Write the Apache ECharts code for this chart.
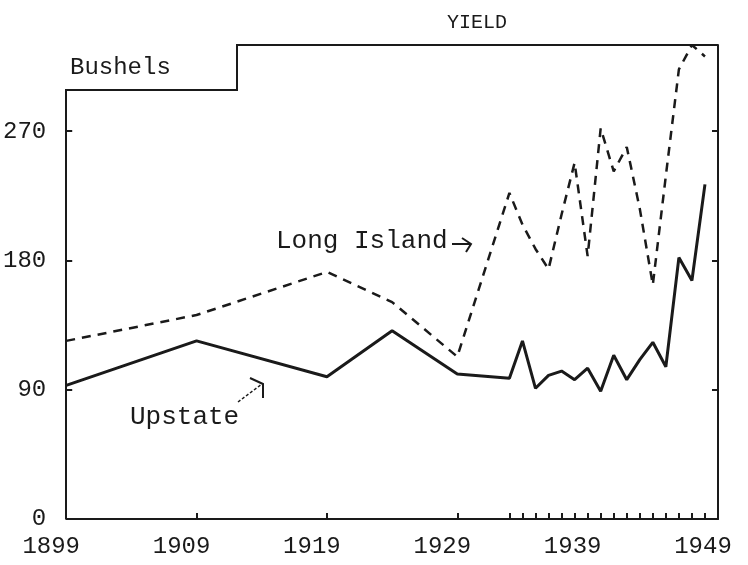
<!DOCTYPE html>
<html>
<head>
<meta charset="utf-8">
<script src="https://cdn.jsdelivr.net/npm/echarts@6/dist/echarts.min.js"></script>
<style>
html, body { margin: 0; background: #fff; }
#chart { width: 748px; height: 565px; }
</style>
</head>
<body>
<div id="chart"></div>
<script>
// values (bushels per acre)
var years = [1899, 1909, 1919, 1924, 1929, 1933, 1934, 1935, 1936, 1937, 1938, 1939, 1940, 1941, 1942, 1943, 1944, 1945, 1946, 1947, 1948];
var longIsland = [124, 142, 172, 151, 113, 227, 205, 188, 174, 212, 248, 183, 272, 242, 259, 216, 163, 239, 313, 330, 322];
var upstate = [93, 124, 99, 131, 101, 98, 124, 91, 100, 103, 97, 105, 89, 114, 97, 111, 123, 106, 182, 166, 233];

var xLabelYears = [1899, 1909, 1919, 1929, 1939, 1949];
var xTickYears = [1909, 1919, 1929, 1933, 1934, 1935, 1936, 1937, 1938, 1939, 1940, 1941, 1942, 1943, 1944, 1945, 1946, 1947, 1948];
var yLabels = [0, 90, 180, 270];
var yTicks = [90, 180, 270];

var mono = '"Liberation Mono", "DejaVu Sans Mono", monospace';
var ink = '#1a1a1a';

function pairs(values) {
    return years.map(function (y, i) { return [y, values[i]]; });
}

var myChart = echarts.init(document.getElementById('chart'));

var option = {
    backgroundColor: '#fff',
    animation: false,
    title: {
        text: 'YIELD',
        left: 442,
        top: 8,
        textStyle: { fontFamily: mono, fontSize: 20, fontWeight: 'normal', color: ink }
    },
    grid: { left: 66, right: 30, top: 45, bottom: 46 },
    xAxis: {
        type: 'value',
        min: 1899,
        max: 1949,
        interval: 10,
        axisLine: { lineStyle: { color: ink, width: 2 } },
        axisTick: { inside: true, length: 6, customValues: xTickYears, lineStyle: { color: ink, width: 2 } },
        axisLabel: {
            customValues: xLabelYears,
            fontFamily: mono, fontSize: 24, color: ink, margin: 16,
            padding: [0, 30, 0, 0],
            formatter: function (v) { return String(v); }
        },
        splitLine: { show: false }
    },
    yAxis: [{
        type: 'value',
        min: 0,
        max: 330,
        axisLine: { show: false },
        axisTick: { show: true, inside: true, length: 6, customValues: yTicks, lineStyle: { color: ink, width: 2 } },
        axisLabel: { customValues: yLabels, fontFamily: mono, fontSize: 24, color: ink, margin: 20 },
        splitLine: { show: false }
    }, {
        type: 'value',
        position: 'right',
        min: 0,
        max: 330,
        axisLine: { show: true, lineStyle: { color: ink, width: 2 } },
        axisTick: { show: true, inside: true, length: 6, customValues: yTicks, lineStyle: { color: ink, width: 2 } },
        axisLabel: { show: false },
        splitLine: { show: false }
    }],
    series: [{
        name: 'Long Island',
        type: 'line',
        data: pairs(longIsland),
        showSymbol: false,
        lineStyle: { color: ink, width: 2.5, type: [9, 7] }
    }, {
        name: 'Upstate',
        type: 'line',
        data: pairs(upstate),
        showSymbol: false,
        lineStyle: { color: ink, width: 3 }
    }],
    graphic: [
        // stepped top / left border of the frame
        { type: 'polyline', shape: { points: [[66, 519], [66, 90], [237, 90], [237, 45], [718, 45]] },
          style: { stroke: ink, lineWidth: 2, fill: null } },
        { type: 'text', left: 70, top: 56, style: { text: 'Bushels', font: '24px ' + mono, fill: ink } },
        { type: 'text', left: 276, top: 228, style: { text: 'Long Island', font: '26px ' + mono, fill: ink } },
        { type: 'polyline', shape: { points: [[452, 244], [470, 244]] }, style: { stroke: ink, lineWidth: 2, fill: null } },
        { type: 'polyline', shape: { points: [[462, 238], [471, 244], [466, 252]] }, style: { stroke: ink, lineWidth: 2, fill: null } },
        { type: 'text', left: 130, top: 404, style: { text: 'Upstate', font: '26px ' + mono, fill: ink } },
        { type: 'polyline', shape: { points: [[238, 402], [262, 384]] }, style: { stroke: ink, lineWidth: 1.5, lineDash: [3, 2], fill: null } },
        { type: 'polyline', shape: { points: [[250, 378], [263, 384], [263, 398]] }, style: { stroke: ink, lineWidth: 2, fill: null } }
    ]
};

myChart.setOption(option);
</script>
</body>
</html>
